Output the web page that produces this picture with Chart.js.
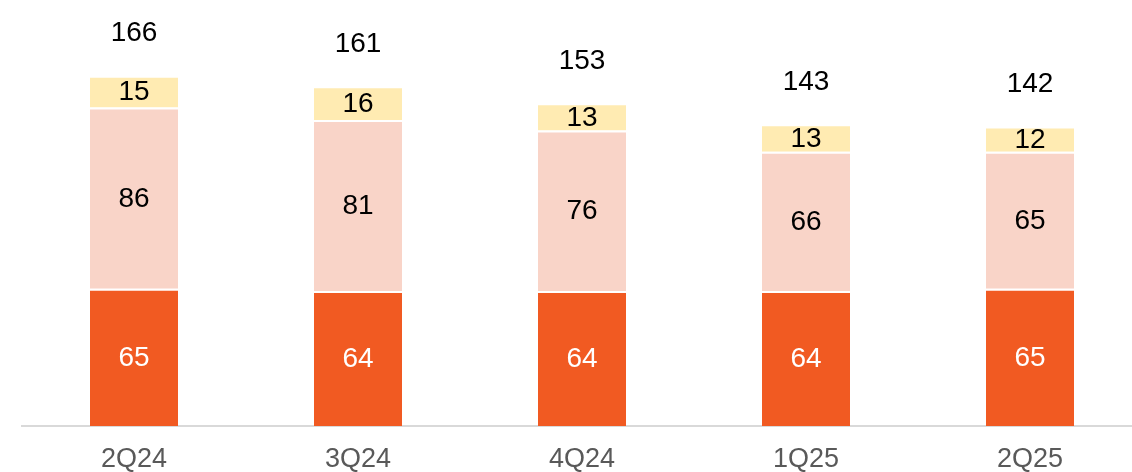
<!DOCTYPE html>
<html>
<head>
<meta charset="utf-8">
<script src="https://cdn.jsdelivr.net/npm/chart.js@4"></script>
<style>
  html, body { margin: 0; padding: 0; background: #fff; overflow: hidden; }
  #wrap { width: 1142px; height: 472px; }
</style>
</head>
<body>
<div id="wrap"><canvas id="chartdiv" width="1142" height="472"></canvas></div>
<script>
// quarters and segment values
const quarters = ['2Q24', '3Q24', '4Q24', '1Q25', '2Q25'];
const baseVals = [65, 64, 64, 64, 65];
const midVals = [86, 81, 76, 66, 65];
const topVals = [15, 16, 13, 13, 12];

const labelFont = '28px "Liberation Sans", Arial, sans-serif';

// draws the numbers inside each segment and the totals above
const valueLabels = {
    id: 'valueLabels',
    afterDatasetsDraw(chart) {
        const ctx = chart.ctx;
        ctx.save();
        ctx.font = labelFont;
        ctx.textAlign = 'center';
        ctx.textBaseline = 'middle';
        chart.data.datasets.forEach((ds, i) => {
            const meta = chart.getDatasetMeta(i);
            meta.data.forEach((bar, j) => {
                ctx.fillStyle = ds.labelColor;
                ctx.fillText(String(ds.data[j]), bar.x, (bar.y + bar.base) / 2 + 1);
            });
        });
        const last = chart.getDatasetMeta(chart.data.datasets.length - 1);
        ctx.fillStyle = '#000';
        last.data.forEach((bar, j) => {
            const total = baseVals[j] + midVals[j] + topVals[j];
            ctx.fillText(String(total), bar.x, bar.y - 42);
        });
        ctx.restore();
    }
};

const chartdiv = document.getElementById('chartdiv');
new Chart(chartdiv, {
    type: 'bar',
    data: {
        labels: quarters,
        datasets: [
            { data: baseVals, backgroundColor: '#F15A22', labelColor: '#fff' },
            { data: midVals, backgroundColor: '#F9D4C8', labelColor: '#000' },
            { data: topVals, backgroundColor: '#FFEBB2', labelColor: '#000' }
        ].map(d => Object.assign(d, {
            borderColor: '#fff',
            borderWidth: { top: 2, left: 0, right: 0, bottom: 0 },
            borderSkipped: false,
            barPercentage: 0.393,
            categoryPercentage: 1
        }))
    },
    options: {
        responsive: false,
        animation: false,
        layout: { padding: { top: 4, left: 22, right: 0, bottom: 0 } },
        plugins: { legend: { display: false }, tooltip: { enabled: false } },
        scales: {
            x: {
                stacked: true,
                grid: { display: false },
                border: { display: true, color: '#D9D9D9', width: 2 },
                ticks: {
                    color: '#595959',
                    padding: 9,
                    font: { family: '"Liberation Sans", Arial, sans-serif', size: 27 }
                },
                afterFit: (scale) => { scale.height = 46; }
            },
            y: {
                stacked: true,
                display: false,
                min: 0,
                max: 200
            }
        }
    },
    plugins: [valueLabels]
});
</script>
</body>
</html>
